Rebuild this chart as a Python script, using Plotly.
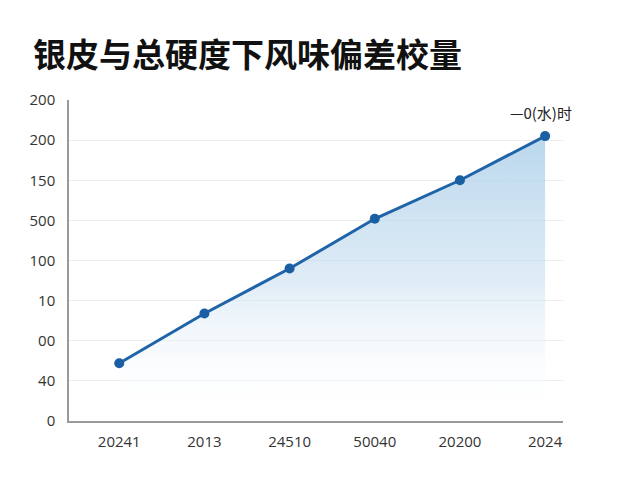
import plotly.graph_objects as go

# -----------------------------
# Data
# -----------------------------
categories = ["20241", "2013", "24510", "50040", "20200", "2024"]
values = [36, 67, 95, 126, 150, 177.5]
y_tickvals = [0, 25, 50, 75, 100, 125, 150, 175, 200]
y_ticktext = ["0", "40", "00", "10", "100", "500", "150", "200", "200"]
title_text = "银皮与总硬度下风味偏差校量"
legend_text = "—0(水)时"

fig = go.Figure()

fig.add_trace(go.Scatter(
    x=categories, y=values,
    mode="lines+markers",
    line=dict(color="#1f64a8", width=3),
    marker=dict(color="#1a5fa3", size=10),
    fill="tozeroy",
    fillgradient=dict(
        type="vertical",
        colorscale=[[0, "rgba(255,255,255,0)"], [0.5, "rgba(195,220,238,0.55)"], [1, "rgba(168,205,232,0.8)"]],
    ),
    showlegend=False,
))

fig.add_annotation(
    text=legend_text, xref="paper", yref="paper",
    x=0.955, y=0.96, xanchor="center", yanchor="middle",
    showarrow=False, font=dict(size=15, color="#222222", family="Noto Sans CJK SC"),
)

# page body adds an 8px offset, margins account for it
fig.update_layout(
    width=640, height=480,
    paper_bgcolor="white", plot_bgcolor="white",
    margin=dict(l=61, r=85, t=92, b=67),
    title=dict(
        text=title_text, x=25 / 640, xanchor="left", y=1 - 47 / 480, yanchor="middle",
        font=dict(family="Noto Sans CJK SC", size=33, color="#111111", weight="bold"),
    ),
    font=dict(family="Open Sans", color="#333333"),
)

fig.update_xaxes(
    type="category", range=[-0.59, 5.21],
    showgrid=False, showline=True, linecolor="#9a9a9a", linewidth=1.5,
    ticks="", ticklabelstandoff=6, tickfont=dict(size=15, color="#333333"),
)
fig.update_yaxes(
    range=[0, 200], tickvals=y_tickvals, ticktext=y_ticktext,
    showgrid=True, gridcolor="#eeeeee", zeroline=False,
    showline=True, linecolor="#9a9a9a", linewidth=1.5,
    ticks="", ticklabelstandoff=9, tickfont=dict(size=15, color="#333333"),
)

fig.write_html("out.html")
